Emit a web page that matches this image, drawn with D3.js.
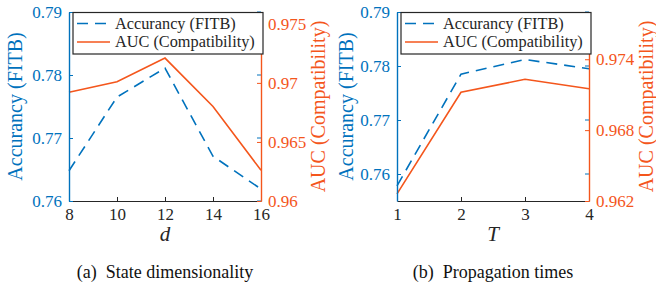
<!DOCTYPE html>
<html>
<head>
<meta charset="utf-8">
<script src="https://cdn.jsdelivr.net/npm/d3@7"></script>
<style>
  body { margin: 0; background: #fff; }
  text { font-family: "Liberation Serif", "Times New Roman", serif !important; }
</style>
</head>
<body>
<script>
// panel (a): state dimensionality
const dValues = [8, 10, 12, 14, 16];
const accD = [0.7648, 0.7765, 0.7811, 0.7671, 0.7619];
const aucD = [0.9692, 0.9701, 0.9721, 0.9680, 0.9626];
const accTicksD = [0.76, 0.77, 0.78, 0.79];
const aucTicksD = [0.96, 0.965, 0.97, 0.975];

// panel (b): propagation times
const tValues = [1, 2, 3, 4];
const accT = [0.7578, 0.7785, 0.7812, 0.7795];
const aucT = [0.9626, 0.9712, 0.9723, 0.9715];
const accTicksT = [0.76, 0.77, 0.78, 0.79];
const aucTicksT = [0.962, 0.968, 0.974];

const legendLabels = ["Accurancy (FITB)", "AUC (Compatibility)"];

const blue = "#0072bd";
const orange = "#f4561c";
const dark = "#262626";
const fontName = "Times New Roman";

const w = 656, h = 286;

const svg = d3.select("body")
  .append("svg")
  .attr("width", w)
  .attr("height", h)
  .style("display", "block");

// small helper so every text gets the serif face
function label(sel, size) {
  return sel.style("font-family", fontName).style("font-size", size + "px");
}

function drawPanel(opts) {
  const left = opts.left, top = 12;
  const width = 192, height = 189;

  const g = svg.append("g")
    .attr("transform", "translate(" + left + "," + top + ")");

  const xScale = d3.scaleLinear().domain(d3.extent(opts.x)).range([0, width]);
  const yAcc = d3.scaleLinear().domain(opts.accDomain).range([height, 0]);
  const yAuc = d3.scaleLinear().domain(opts.aucDomain).range([height, 0]);

  // lines
  const accLine = d3.line().x((d, i) => xScale(opts.x[i])).y((d) => yAcc(d));
  const aucLine = d3.line().x((d, i) => xScale(opts.x[i])).y((d) => yAuc(d));

  g.append("path")
    .attr("d", aucLine(opts.auc))
    .attr("fill", "none")
    .attr("stroke", orange)
    .attr("stroke-width", 1.6);

  g.append("path")
    .attr("d", accLine(opts.acc))
    .attr("fill", "none")
    .attr("stroke", blue)
    .attr("stroke-width", 1.6)
    .attr("stroke-dasharray", "11,7");

  // x-axis (ticks pointing inward)
  const xAxis = d3.axisBottom(xScale)
    .tickValues(opts.x)
    .tickFormat(d3.format("d"))
    .tickSizeInner(-4)
    .tickSizeOuter(0)
    .tickPadding(7);
  const gx = g.append("g")
    .attr("transform", "translate(0," + height + ")")
    .call(xAxis)
    .attr("font-family", null);
  gx.select(".domain").attr("stroke", dark).attr("stroke-width", 1.2);
  gx.selectAll(".tick line").attr("stroke", dark);
  label(gx.selectAll(".tick text").attr("fill", dark), 17);

  // left y-axis (accuracy)
  const yAxisL = d3.axisLeft(yAcc)
    .tickValues(opts.accTicks)
    .tickFormat(d3.format(".2f"))
    .tickSizeInner(-4)
    .tickSizeOuter(0)
    .tickPadding(7);
  const gl = g.append("g").call(yAxisL).attr("font-family", null);
  gl.select(".domain").attr("stroke", blue).attr("stroke-width", 1.4);
  gl.selectAll(".tick line").attr("stroke", blue);
  label(gl.selectAll(".tick text").attr("fill", blue), 17);

  // mirrored accuracy ticks on the right side
  g.append("g")
    .selectAll("line")
    .data(opts.accTicks)
    .enter()
    .append("line")
    .attr("x1", width - 4)
    .attr("x2", width)
    .attr("y1", (d) => yAcc(d))
    .attr("y2", (d) => yAcc(d))
    .attr("stroke", blue);

  // right y-axis (auc)
  const yAxisR = d3.axisRight(yAuc)
    .tickValues(opts.aucTicks)
    .tickFormat((d) => d3.format("~g")(d))
    .tickSizeInner(-4)
    .tickSizeOuter(0)
    .tickPadding(7);
  const gr = g.append("g")
    .attr("transform", "translate(" + width + ",0)")
    .call(yAxisR)
    .attr("font-family", null);
  gr.select(".domain").attr("stroke", orange).attr("stroke-width", 1.4);
  gr.selectAll(".tick line").attr("stroke", orange);
  label(gr.selectAll(".tick text").attr("fill", orange), 17);

  // axis labels
  label(g.append("text"), 20)
    .attr("transform", "translate(" + opts.labelLeftX + "," + (height / 2) + ") rotate(-90)")
    .attr("text-anchor", "middle")
    .attr("dy", "0.35em")
    .attr("fill", blue)
    .text("Accurancy (FITB)");

  label(g.append("text"), 20)
    .attr("transform", "translate(" + (width + 58) + "," + (height / 2) + ") rotate(-90)")
    .attr("text-anchor", "middle")
    .attr("dy", "0.3em")
    .attr("fill", orange)
    .text("AUC (Compatibility)");

  label(g.append("text"), 21)
    .attr("x", width / 2)
    .attr("y", height + 40)
    .attr("text-anchor", "middle")
    .attr("fill", dark)
    .style("font-style", "italic")
    .text(opts.xLabel);

  // caption
  label(g.append("text"), 18)
    .attr("x", width / 2)
    .attr("y", height + 77)
    .attr("text-anchor", "middle")
    .attr("fill", "#111")
    .style("white-space", "pre")
    .text(opts.caption);

  // legend
  const legend = g.append("g").attr("transform", "translate(4,0)");
  legend.append("rect")
    .attr("x", 0)
    .attr("y", 0.5)
    .attr("width", 190)
    .attr("height", 41.5)
    .attr("fill", "#fff")
    .attr("stroke", dark)
    .attr("stroke-width", 1.2);

  legendLabels.forEach((lab, i) => {
    const ly = 11.5 + i * 18.5;
    legend.append("line")
      .attr("x1", 4)
      .attr("x2", 37)
      .attr("y1", ly)
      .attr("y2", ly)
      .attr("stroke", i === 0 ? blue : orange)
      .attr("stroke-width", 1.6)
      .attr("stroke-dasharray", i === 0 ? "11,7" : null);
    label(legend.append("text"), 16.3)
      .attr("x", 42)
      .attr("y", ly)
      .attr("dy", "0.33em")
      .attr("fill", dark)
      .text(lab);
  });
}

drawPanel({
  left: 69,
  x: dValues,
  acc: accD,
  auc: aucD,
  accDomain: [0.76, 0.79],
  aucDomain: [0.96, 0.976],
  accTicks: accTicksD,
  aucTicks: aucTicksD,
  labelLeftX: -54,
  xLabel: "d",
  caption: "(a)  State dimensionality"
});

drawPanel({
  left: 397,
  x: tValues,
  acc: accT,
  auc: aucT,
  accDomain: [0.755, 0.79],
  aucDomain: [0.962, 0.978],
  accTicks: accTicksT,
  aucTicks: aucTicksT,
  labelLeftX: -51,
  xLabel: "T",
  caption: "(b)  Propagation times"
});
</script>
</body>
</html>
